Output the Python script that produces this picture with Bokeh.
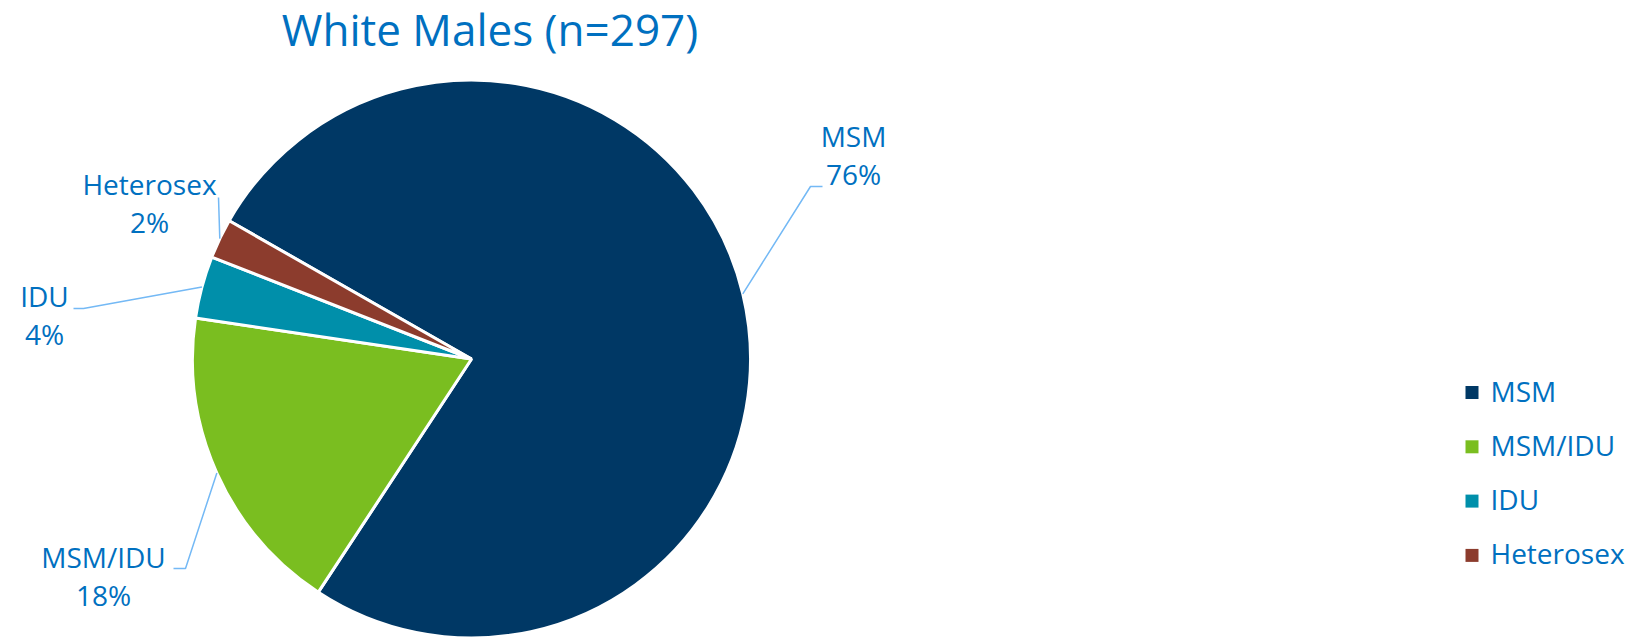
import math
from bokeh.plotting import figure
from bokeh.models import Range1d, ColumnDataSource
from bokeh.core.properties import value
from bokeh.embed import file_html
from bokeh.resources import INLINE

# ---- data ----
title_text = "White Males (n=297)"
categories = ["MSM", "MSM/IDU", "IDU", "Heterosex"]
percents = [76.0, 18.1, 3.6, 2.3]
colors = ["#003865", "#7ABE20", "#008FAA", "#8C3C2D"]

# ---- layout (page pixel coords -> data coords) ----
W, H = 1643, 638
def X(px): return px
def Y(py): return H - py

cx, cy, r = X(471), Y(358.5), 279
first_angle_deg = 150.3  # where the first slice starts, going clockwise

# label anchors (centre x, name baseline) and leader elbow/end points, page px
label_pos = {
    "MSM":       dict(x=853, y=147, elbow=(810, 186), end=(822, 186)),
    "MSM/IDU":   dict(x=103, y=568, elbow=(185, 568), end=(173, 568)),
    "IDU":       dict(x=44,  y=307, elbow=(83, 308),  end=(73, 308)),
    "Heterosex": dict(x=149, y=195, elbow=(218, 197), end=(218, 197)),
}
line_gap = 38
FONT = "Open Sans"
TXT = "#0070C0"
LEADER = "#74B9F5"
TXT_SHIFT = 12     # compensation for renderer baseline offset (28px text)
TITLE_SHIFT = 15

p = figure(width=W, height=H, output_backend="svg", toolbar_location=None,
           x_range=Range1d(0, W), y_range=Range1d(0, H),
           min_border=0, outline_line_color=None)
p.axis.visible = False
p.grid.visible = False
p.background_fill_color = "white"

total = sum(percents)
bounds = [first_angle_deg]
for v in percents:
    bounds.append(bounds[-1] - v / total * 360.0)
starts = [math.radians(bounds[i + 1]) for i in range(len(percents))]
ends = [math.radians(bounds[i]) for i in range(len(percents))]
mids = [(a + b) / 2 for a, b in zip(starts, ends)]

src = ColumnDataSource(dict(cat=categories, start=starts, end=ends, color=colors))
p.wedge(x=cx, y=cy, radius=r, start_angle="start", end_angle="end",
        fill_color="color", line_color="white", line_width=3, source=src)

# leader lines + labels
for cat, pct, m in zip(categories, percents, mids):
    lp = label_pos[cat]
    sx, sy = cx + r * math.cos(m), cy + r * math.sin(m)
    ex, ey = X(lp["elbow"][0]), Y(lp["elbow"][1])
    tx, ty = X(lp["end"][0]), Y(lp["end"][1])
    p.line([sx, ex, tx], [sy, ey, ty], line_color=LEADER, line_width=1.5)
    p.text(x=[X(lp["x"])], y=[Y(lp["y"]) + TXT_SHIFT], text=[cat], text_align="center",
           text_baseline="alphabetic", text_font=value(FONT),
           text_font_size="28px", text_color=TXT)
    p.text(x=[X(lp["x"])], y=[Y(lp["y"] + line_gap) + TXT_SHIFT], text=[f"{round(pct)}%"],
           text_align="center", text_baseline="alphabetic",
           text_font=value(FONT), text_font_size="28px", text_color=TXT)

# title
p.text(x=[X(489.5)], y=[Y(43) + TITLE_SHIFT], text=[title_text], text_align="center",
       text_baseline="alphabetic", text_font=value(FONT),
       text_font_size="44px", text_color=TXT)

# legend
leg_y0, leg_dy = 392, 54.3
leg_ys = [Y(leg_y0 + i * leg_dy) for i in range(len(categories))]
p.scatter(x=[X(1471.5)] * len(categories), y=leg_ys, marker="square", size=13,
          fill_color=colors, line_color=None)
p.text(x=[X(1490)] * len(categories), y=[yy - 10 + TXT_SHIFT for yy in leg_ys], text=categories,
       text_align="left", text_baseline="alphabetic", text_font=value(FONT),
       text_font_size="28px", text_color=TXT)

open("out.html", "w").write(file_html(p, INLINE))
